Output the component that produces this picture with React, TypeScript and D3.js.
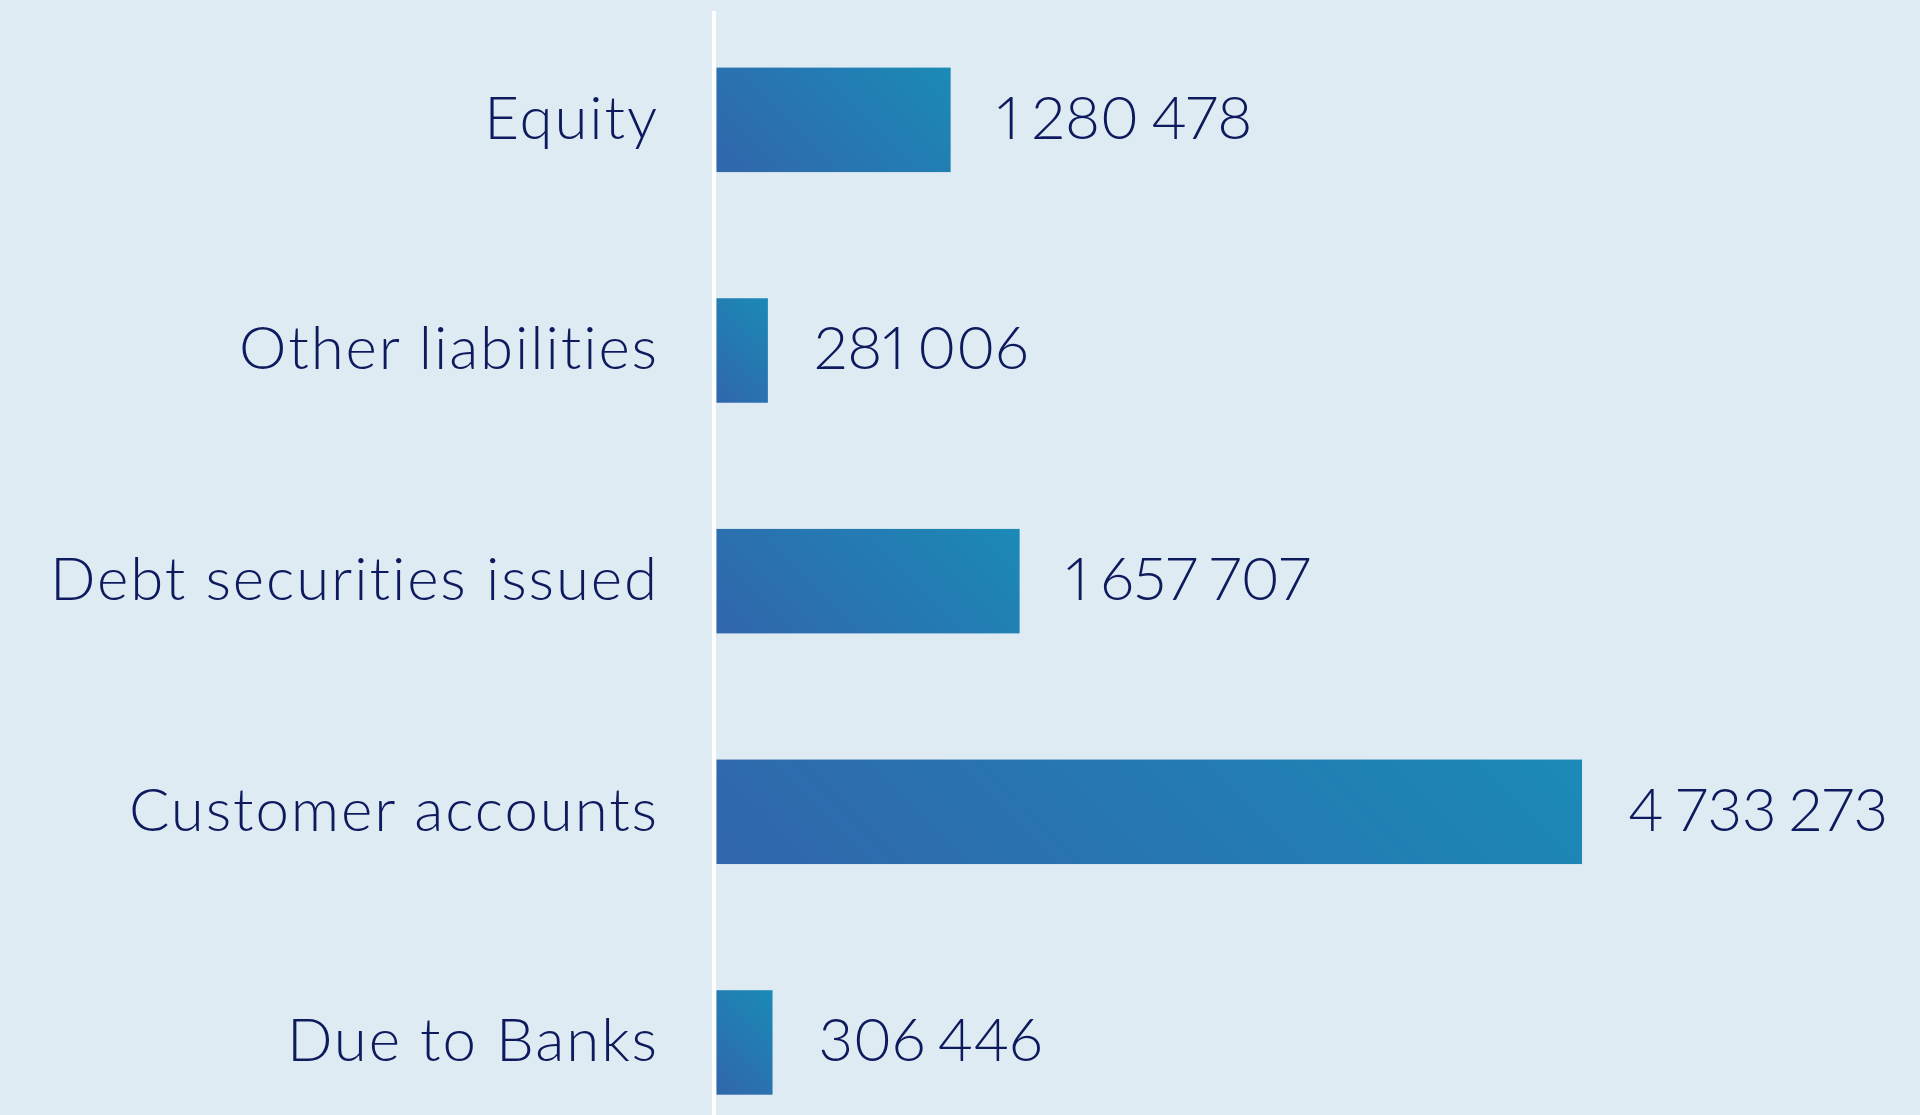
import React from 'react';
import * as d3 from 'd3';

// Liabilities breakdown, reading top to bottom
const categories = ['Equity', 'Other liabilities', 'Debt securities issued', 'Customer accounts', 'Due to Banks'];
const values = [1280478, 281006, 1657707, 4733273, 306446];
const valueLabels = ['1 280 478', '281 006', '1 657 707', '4 733 273', '306 446'];

const W = 1920;
const H = 1115;
const BG = '#dfebf3';
const TEXT = '#0d1a5d';
const FONT = 'Lato, "Open Sans", sans-serif';
const GRAD_FROM = '#3166ac';
const GRAD_TO = '#1b8ab6';
const GRAD_ANGLE = 45; // css-style angle, measured in pixel space

export default function App() {
  const axisX = 714;

  const x = d3.scaleLinear().domain([0, 5000000]).range([axisX + 2.5, axisX + 2.5 + 914.3]);

  const y = d3
    .scaleBand<string>()
    .domain(categories)
    .range([67.6, 1094.7])
    .paddingInner(0.547)
    .paddingOuter(0);

  const bw = y.bandwidth();

  // gradient line for a box, like css linear-gradient(<angle>)
  const a = (GRAD_ANGLE * Math.PI) / 180;
  const dir = [Math.sin(a), -Math.cos(a)];
  const gradFor = (bx: number, by: number, w: number, h: number) => {
    const len = Math.abs(w * Math.sin(a)) + Math.abs(h * Math.cos(a));
    const cx = bx + w / 2;
    const cy = by + h / 2;
    return {
      x1: cx - (dir[0] * len) / 2,
      y1: cy - (dir[1] * len) / 2,
      x2: cx + (dir[0] * len) / 2,
      y2: cy + (dir[1] * len) / 2,
    };
  };

  const bars = categories.map((c, i) => {
    const bx = x(0);
    const by = y(c) as number;
    const w = x(values[i]) - x(0);
    return { c, i, bx, by, w, g: gradFor(bx, by, w, bw) };
  });

  return (
    <div style={{ position: 'fixed', left: 0, top: 0 }}>
      <style>{`body { margin: 0; }`}</style>
      <svg width={W} height={H} style={{ display: 'block' }}>
        <defs>
          {bars.map((b) => (
            <linearGradient
              key={b.c}
              id={`barFill${b.i}`}
              gradientUnits="userSpaceOnUse"
              x1={b.g.x1}
              y1={b.g.y1}
              x2={b.g.x2}
              y2={b.g.y2}
            >
              <stop offset="0%" stopColor={GRAD_FROM} />
              <stop offset="100%" stopColor={GRAD_TO} />
            </linearGradient>
          ))}
        </defs>
        <rect width={W} height={H} fill={BG} />

        {bars.map((b) => {
          const yc = b.by + bw / 2;
          return (
            <g key={b.c}>
              <rect x={b.bx} y={b.by} width={b.w} height={bw} fill={`url(#barFill${b.i})`} />
              <text
                x={659}
                y={yc + 19}
                textAnchor="end"
                fontFamily={FONT}
                fontWeight={300}
                fontSize={60}
                letterSpacing={1.9}
                fill={TEXT}
                style={{ fontVariantLigatures: 'none' }}
              >
                {b.c}
              </text>
              <text
                x={b.bx + b.w + 46}
                y={yc + 19}
                textAnchor="start"
                fontFamily={FONT}
                fontWeight={300}
                fontSize={60}
                wordSpacing={-4}
                fill={TEXT}
                style={{ fontVariantNumeric: 'proportional-nums' }}
              >
                {valueLabels[b.i]}
              </text>
            </g>
          );
        })}

        <line x1={axisX} x2={axisX} y1={11} y2={H} stroke="#ffffff" strokeWidth={4} />
      </svg>
    </div>
  );
}
